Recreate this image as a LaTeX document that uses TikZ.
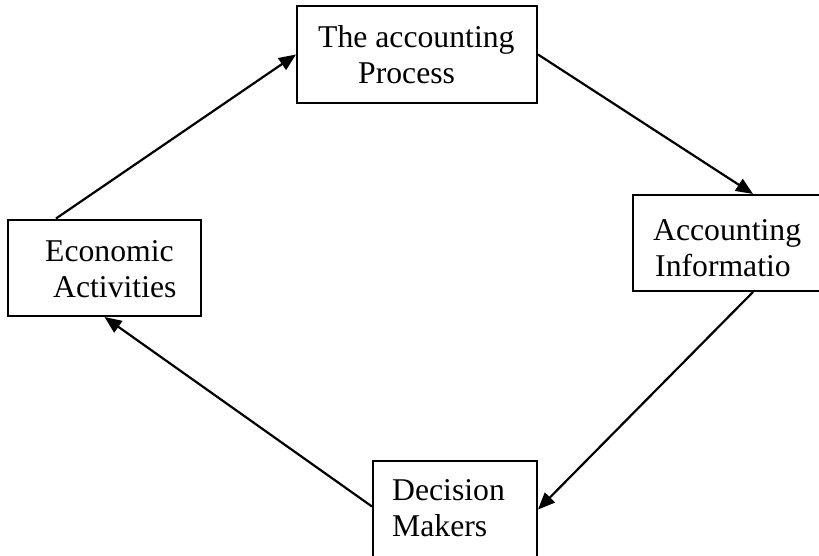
\documentclass[tikz,border=0pt]{standalone}
\usepackage{fontspec}
\setmainfont{Liberation Serif}
\usetikzlibrary{arrows.meta}
\begin{document}
\begin{tikzpicture}[x=1pt,y=-1pt,
  box/.style={draw=black, line width=2pt, rectangle, inner sep=0pt},
  arr/.style={draw=black, line width=2.2pt, -{Triangle[length=17pt,width=14pt]}},
  txt/.style={anchor=base west, inner sep=0pt, font=\fontsize{31.7pt}{36pt}\selectfont}]
\useasboundingbox (0,0) rectangle (819,555);
% boxes
\node[box, minimum width=240pt, minimum height=97pt] (proc) at (417,54.5) {};
\node[box, minimum width=193pt, minimum height=96.5pt] (econ) at (104.5,267.75) {};
\node[box, minimum width=240pt, minimum height=96pt] (info) at (753,243) {};
\node[box, minimum width=164pt, minimum height=97pt] (dec) at (455,509.5) {};
% texts
\node[txt] (p1) at (318,47) {The accounting};
\node[txt] (p2) at (358,83) {Process};
\node[txt] (e1) at (45,261) {Economic};
\node[txt] (e2) at (53,297) {Activities};
\node[txt] (i1) at (653,240) {Accounting};
\node[txt] (i2) at (655,276) {Informatio};
\node[txt] (d1) at (392,500) {Decision};
\node[txt] (d2) at (392,536) {Makers};
% connectors
\draw[arr] ([xshift=49pt]econ.north west) -- (proc.west);
\draw[arr] (proc.east) -- (info.north);
\draw[arr] (info.south) -- (dec.east);
\draw[arr] ([yshift=3pt]dec.west) -- (econ.south);
\end{tikzpicture}
\end{document}
